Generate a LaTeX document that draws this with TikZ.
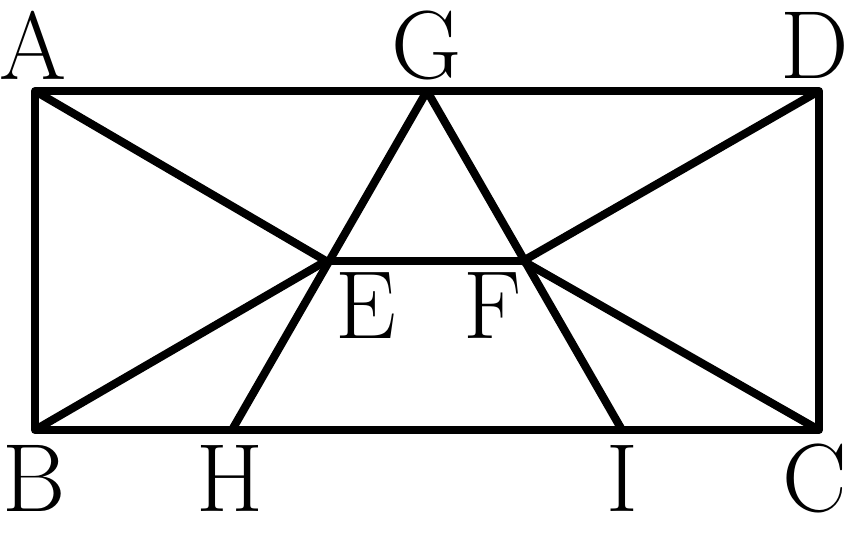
\documentclass[tikz,border=0pt]{standalone}
\begin{document}
\begin{tikzpicture}[x=0.01cm,y=0.01cm,line width=2.3pt,line join=round,
    every node/.style={inner sep=0pt,font=\fontsize{27.5}{33}\selectfont}]
      \useasboundingbox (0,0) rectangle (853,539);
      \path
        (35,448) coordinate (A)
        (427,448) coordinate (G)
        (819,448) coordinate (D)
        (35,109) coordinate (B)
        (232,109) coordinate (H)
        (622,109) coordinate (I)
        (819,109) coordinate (C)
        (326,278) coordinate (E)
        (523,278) coordinate (F);
      \path
        (33,494) node (lA){A}
        (427,494) node (lG){G}
        (815,494) node (lD){D}
        (34,61) node (lB){B}
        (230,61) node (lH){H}
        (622,61) node (lI){I}
        (815,61) node (lC){C}
        (366,233) node (lE){E}
        (493,233) node (lF){F};
      \begin{scope}[-]
        \draw (A) -- (D) -- (C) -- (B) -- cycle;
        \draw (A) to (E);
        \draw (B) to (E);
        \draw (D) to (F);
        \draw (C) to (F);
        \draw (E) to (F);
        \draw (G) to (H);
        \draw (G) to (I);
      \end{scope}
    \end{tikzpicture}
\end{document}
